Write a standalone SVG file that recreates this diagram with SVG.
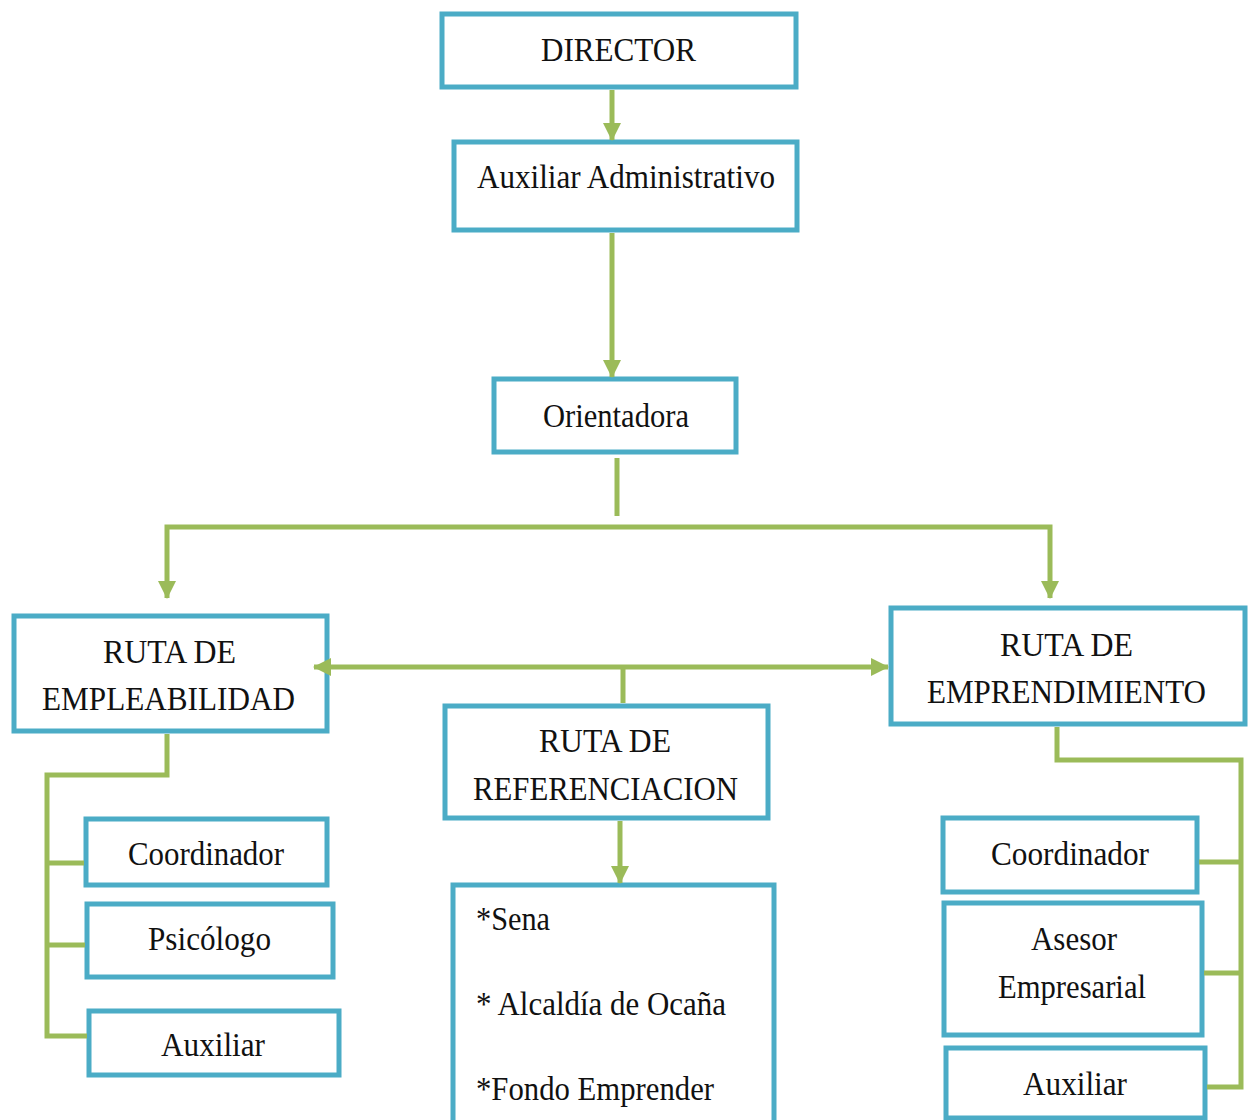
<svg xmlns="http://www.w3.org/2000/svg" width="1249" height="1120" viewBox="0 0 1249 1120">
<style>
.box{fill:#fff;stroke:#4BACC6;stroke-width:5}
.ln{fill:none;stroke:#9BBB59;stroke-width:5;stroke-linejoin:miter}
text{font-family:"Liberation Serif","DejaVu Serif",serif;font-size:34px;fill:#111}
</style>
<defs>
<marker id="ah" markerUnits="userSpaceOnUse" markerWidth="20" markerHeight="20" refX="17" refY="9" orient="auto-start-reverse">
<path d="M0,0 L18,9 L0,18 z" fill="#9BBB59"/>
</marker>
</defs>
<rect width="1249" height="1120" fill="#fff"/>
<g id="director"><rect class="box" x="442" y="14" width="354" height="73"/><text x="541" y="61" textLength="155" lengthAdjust="spacingAndGlyphs">DIRECTOR</text></g>
<g id="aux-admin"><rect class="box" x="454" y="142" width="343" height="88"/><text x="477" y="188" textLength="298" lengthAdjust="spacingAndGlyphs">Auxiliar Administrativo</text></g>
<g id="orientadora"><rect class="box" x="494" y="379" width="242" height="73"/><text x="543" y="427" textLength="146" lengthAdjust="spacingAndGlyphs">Orientadora</text></g>
<g id="ruta-empleabilidad"><rect class="box" x="14" y="616" width="313" height="115"/><text x="103" y="663" textLength="133" lengthAdjust="spacingAndGlyphs">RUTA DE</text><text x="42" y="710" textLength="253" lengthAdjust="spacingAndGlyphs">EMPLEABILIDAD</text></g>
<g id="ruta-emprendimiento"><rect class="box" x="891" y="608" width="354" height="116"/><text x="1000" y="656" textLength="133" lengthAdjust="spacingAndGlyphs">RUTA DE</text><text x="927" y="703" textLength="279" lengthAdjust="spacingAndGlyphs">EMPRENDIMIENTO</text></g>
<g id="ruta-referenciacion"><rect class="box" x="445" y="706" width="323" height="112"/><text x="539" y="752" textLength="132" lengthAdjust="spacingAndGlyphs">RUTA DE</text><text x="473" y="800" textLength="265" lengthAdjust="spacingAndGlyphs">REFERENCIACION</text></g>
<g id="entidades"><rect class="box" x="453" y="885" width="321" height="240"/><text x="476" y="930" textLength="74" lengthAdjust="spacingAndGlyphs">*Sena</text><text x="476" y="1015" textLength="250" lengthAdjust="spacingAndGlyphs">* Alcaldía de Ocaña</text><text x="476" y="1100" textLength="238" lengthAdjust="spacingAndGlyphs">*Fondo Emprender</text></g>
<g id="coordinador-emp"><rect class="box" x="86" y="819" width="241" height="66"/><text x="128" y="865" textLength="156" lengthAdjust="spacingAndGlyphs">Coordinador</text></g>
<g id="psicologo"><rect class="box" x="87" y="904" width="246" height="73"/><text x="148" y="950" textLength="123" lengthAdjust="spacingAndGlyphs">Psicólogo</text></g>
<g id="auxiliar-emp"><rect class="box" x="89" y="1011" width="250" height="64"/><text x="161" y="1056" textLength="104" lengthAdjust="spacingAndGlyphs">Auxiliar</text></g>
<g id="coordinador-empr"><rect class="box" x="943" y="818" width="254" height="74"/><text x="991" y="865" textLength="158" lengthAdjust="spacingAndGlyphs">Coordinador</text></g>
<g id="asesor"><rect class="box" x="944" y="903" width="258" height="132"/><text x="1031" y="950" textLength="86" lengthAdjust="spacingAndGlyphs">Asesor</text><text x="998" y="998" textLength="148" lengthAdjust="spacingAndGlyphs">Empresarial</text></g>
<g id="auxiliar-empr"><rect class="box" x="946" y="1048" width="259" height="70"/><text x="1023" y="1095" textLength="104" lengthAdjust="spacingAndGlyphs">Auxiliar</text></g>
<g id="connectors">
<path class="ln" d="M612,90 V140" marker-end="url(#ah)"/>
<path class="ln" d="M612,233 V377" marker-end="url(#ah)"/>
<path class="ln" d="M617,458 V516"/>
<path class="ln" d="M167,598 V527 H1050 V598" marker-start="url(#ah)" marker-end="url(#ah)"/>
<path class="ln" d="M314,667 H888" marker-start="url(#ah)" marker-end="url(#ah)"/>
<path class="ln" d="M623,669 V703"/>
<path class="ln" d="M620,821 V883" marker-end="url(#ah)"/>
<path class="ln" d="M167,734 V775 H47 V1036 H87"/>
<path class="ln" d="M47,863 H84"/>
<path class="ln" d="M47,945 H85"/>
<path class="ln" d="M1057,727 V760 H1241 V1087 H1207"/>
<path class="ln" d="M1241,862 H1199"/>
<path class="ln" d="M1241,973 H1204"/>
</g>
</svg>
